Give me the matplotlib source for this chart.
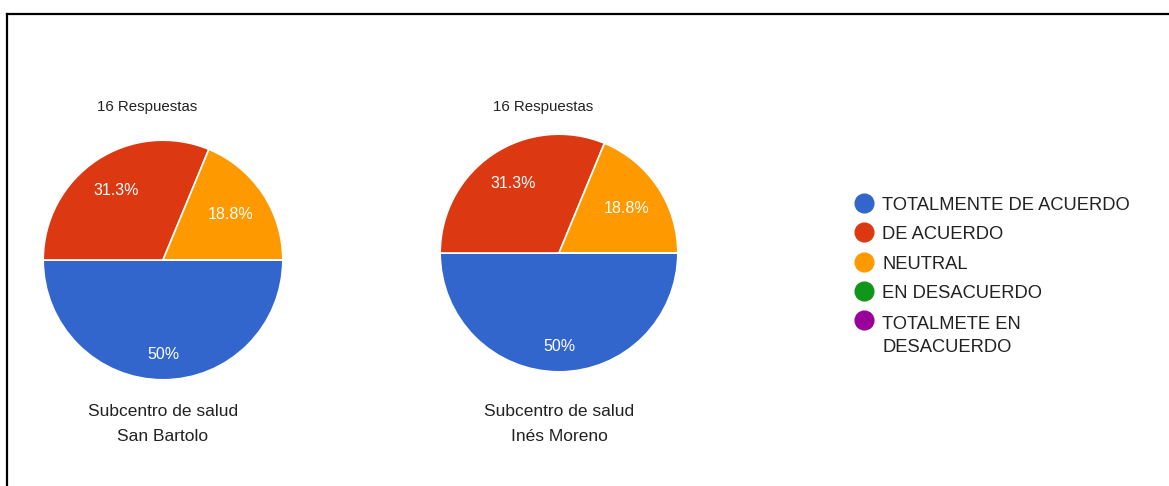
import math
import matplotlib
matplotlib.use("Agg")
import matplotlib.pyplot as plt
from matplotlib.lines import Line2D

plt.rcParams['font.family'] = ['Liberation Sans', 'DejaVu Sans']

categories = ["TOTALMENTE DE ACUERDO", "DE ACUERDO", "NEUTRAL", "EN DESACUERDO",
              "TOTALMETE EN\nDESACUERDO"]
colors = ["#3366CC", "#DC3912", "#FF9900", "#109618", "#990099"]
san_bartolo = [8, 5, 3, 0, 0]
ines_moreno = [8, 5, 3, 0, 0]
pct_labels = ["50%", "31.3%", "18.8%", "", ""]
titles = ["16 Respuestas", "16 Respuestas"]
names = ["Subcentro de salud\nSan Bartolo", "Subcentro de salud\nInés Moreno"]

W, H = 1169, 486
fig = plt.figure(figsize=(W / 100, H / 100), dpi=100)

# frame
fig.add_artist(Line2D([7 / W, 7 / W], [0, 1 - 14 / H], color="black", lw=1.6, transform=fig.transFigure))
fig.add_artist(Line2D([7 / W, 1], [1 - 14 / H, 1 - 14 / H], color="black", lw=1.6, transform=fig.transFigure))

pies = [(163, 260, 121, san_bartolo, titles[0], names[0]),
        (559, 253, 120, ines_moreno, titles[1], names[1])]
label_dist = [0.79, 0.70, 0.68, 0.7, 0.7]

for cx, cy, r, vals, title, name in pies:
    ax = fig.add_axes([(cx - r) / W, (H - cy - r) / H, 2 * r / W, 2 * r / H])
    wedges, texts = ax.pie(
        vals, colors=colors, startangle=0, counterclock=False,
        wedgeprops=dict(edgecolor="white", linewidth=1.2))
    for w, lab, d in zip(wedges, pct_labels, label_dist):
        if not lab:
            continue
        ang = math.radians((w.theta1 + w.theta2) / 2)
        ax.text(d * math.cos(ang), d * math.sin(ang), lab, ha="center", va="center",
                color="white", fontsize=11.5)
    ax.set_xlim(-1.01, 1.01)
    ax.set_ylim(-1.01, 1.01)
    for w in wedges:
        w.set_clip_on(False)
    fig.text((cx - 16) / W, 1 - 107 / H, title, ha="center", va="center", fontsize=10.8, color="#222222")
    fig.text(cx / W, 1 - 424 / H, name, ha="center", va="center", fontsize=12.5,
             color="#222222", linespacing=1.85)

# legend
row_y = [203, 232, 262, 291, 320]
line_gap = 25
for c, lab, y in zip(colors, categories, row_y):
    fig.add_artist(Line2D([864 / W], [1 - y / H], marker="o", markersize=13.5, linestyle="none",
                          markerfacecolor=c, markeredgecolor=c, transform=fig.transFigure))
    n_extra = lab.count("\n")
    base = y + 7 + n_extra * line_gap
    fig.text(882 / W, 1 - base / H, lab, ha="left", va="baseline", fontsize=13.2,
             color="#222222", linespacing=1.5)

fig.savefig("out.png", dpi=100)
